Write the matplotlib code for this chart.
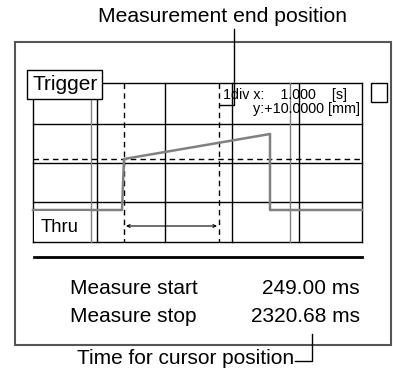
import matplotlib
matplotlib.use('Agg')
import matplotlib.pyplot as plt
from matplotlib.patches import Rectangle

plt.rcParams['font.family'] = ['Liberation Sans', 'DejaVu Sans']

# screen layout (pixel units of the picture, y down)
grid_x = [33, 97, 165, 232, 299, 362]
grid_y = [83, 124, 163, 202, 242]
gray_x = [91, 290]                 # gray cursor lines
cursor_x = [124, 219]              # dashed measure cursors
level_y = 159                      # dashed level line
signal_x = [33, 122, 124, 270, 270, 362]
signal_y = [210, 210, 159, 134, 210, 210]
results = [('Measure start', '249.00 ms'), ('Measure stop', '2320.68 ms')]
result_y = [289, 316]

fig = plt.figure(figsize=(3.93, 3.77), dpi=100)
ax = fig.add_axes([0, 0, 1, 1])
ax.set_xlim(0, 393)
ax.set_ylim(377, 0)
ax.axis('off')

dark = '#555555'
sig = '#808080'

# outer frame
ax.add_patch(Rectangle((15, 42), 376, 303, fill=False, ec=dark, lw=1.5))

# grid
for x in grid_x:
    ax.plot([x, x], [grid_y[0], grid_y[-1]], color='black', lw=1.0)
for y in grid_y:
    ax.plot([grid_x[0], grid_x[-1]], [y, y], color='black', lw=1.0)
for x in gray_x:
    ax.plot([x, x], [grid_y[0], grid_y[-1]], color=sig, lw=1.0)
for x in cursor_x:
    ax.plot([x, x], [grid_y[0], grid_y[-1]], color='black', lw=1.0, ls=(0, (4, 3)))
ax.plot([grid_x[0], grid_x[-1]], [level_y, level_y], color='black', lw=1.0, ls=(0, (4, 3)))

# signal
ax.plot(signal_x, signal_y, color=sig, lw=1.8)

# measurement arrow
ax.annotate('', xy=(cursor_x[0] + 2, 226), xytext=(cursor_x[1] - 2, 226),
            arrowprops=dict(arrowstyle='<->', lw=0.8, color='black',
                            mutation_scale=5, shrinkA=0, shrinkB=0))

# Trigger box
ax.add_patch(Rectangle((27, 70), 75, 29, fc='white', ec='black', lw=1.0, zorder=3))
ax.text(65, 85, 'Trigger', fontsize=15, ha='center', va='center', zorder=4)
# Thru label
ax.add_patch(Rectangle((34, 211), 56, 30, fc='white', ec='none', zorder=3))
ax.text(41, 227, 'Thru', fontsize=13.3, ha='left', va='center', zorder=4)

# small square at right
ax.add_patch(Rectangle((371, 83), 16, 19, fill=False, ec='black', lw=1.0))

# scale text
ax.text(223, 95, '1div x:    1.000    [s]', fontsize=10.3, ha='left', va='center')
ax.text(360, 109, 'y:+10.0000 [mm]', fontsize=10.4, ha='right', va='center')

# callout: measurement end position
ax.text(222, 16, 'Measurement end position', fontsize=15.2, ha='center', va='center')
ax.plot([234, 234, 220], [29, 105, 105], color='black', lw=1.0)

# separator
ax.plot([34, 362], [257, 257], color='black', lw=2.0)

# results
for (lab, val), y in zip(results, result_y):
    ax.text(70, y, lab, fontsize=15, ha='left', va='center')
    ax.text(360, y, val, fontsize=15, ha='right', va='center')

# callout: time for cursor position
ax.text(77, 358, 'Time for cursor position', fontsize=15, ha='left', va='center')
ax.plot([295, 312, 312], [361, 361, 334], color='black', lw=1.0)

fig.savefig('out.png', dpi=100)
